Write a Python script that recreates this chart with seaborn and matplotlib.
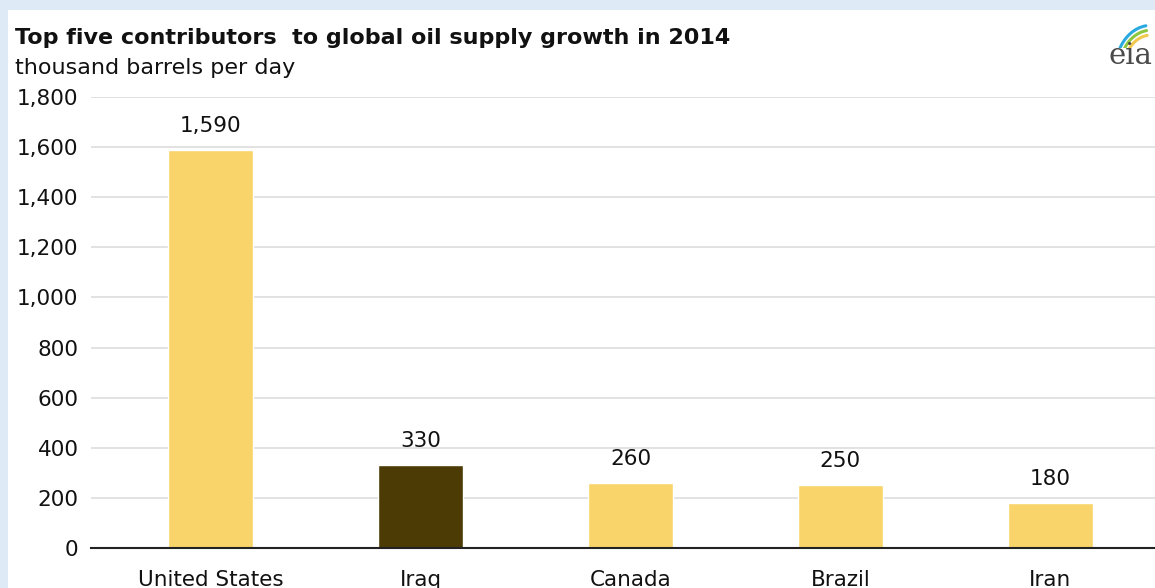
import numpy as np
import pandas as pd
import matplotlib
matplotlib.use("Agg")
import matplotlib.pyplot as plt
import matplotlib.patches as mpatches
import seaborn as sns

countries = ["United States", "Iraq", "Canada", "Brazil", "Iran"]
growth = [1590, 330, 260, 250, 180]
bar_colors = ["#F8D46B", "#4D3B06", "#F8D46B", "#F8D46B", "#F8D46B"]
yticks = [0, 200, 400, 600, 800, 1000, 1200, 1400, 1600, 1800]

df = pd.DataFrame({"country": countries, "growth": growth})

sns.set_theme(style="white")
plt.rcParams["font.family"] = ["DejaVu Sans"]

W, H = 1155, 588
fig = plt.figure(figsize=(W / 100, H / 100), dpi=100)
fig.patch.set_facecolor("#DEEAF5")
# white card behind the chart
card = mpatches.Rectangle((8 / W, 0), 1, 1 - 10 / H, transform=fig.transFigure,
                          facecolor="white", edgecolor="none", zorder=-5)
fig.add_artist(card)

ax = fig.add_axes([91 / W, 40 / H, (1170 - 91) / W, (548 - 97) / H])
ax.set_facecolor("none")
sns.barplot(data=df, x="country", y="growth", hue="country", palette=bar_colors,
            legend=False, width=0.405, ax=ax, saturation=1, zorder=3)

ax.set_xlim(-0.57, 4.57)
ax.set_ylim(0, 1800)
ax.set_yticks(yticks)
ax.set_yticklabels([f"{v:,}" for v in yticks], fontsize=15.5, color="#111111")
ax.grid(axis="y", color="#DADADA", linewidth=1.1, zorder=0)
for s in ["top", "right", "left"]:
    ax.spines[s].set_visible(False)
ax.spines["bottom"].set_color("#222222")
ax.spines["bottom"].set_linewidth(1.5)
ax.spines["bottom"].set_zorder(4)
ax.tick_params(axis="y", length=0, pad=9)
ax.tick_params(axis="x", length=0, pad=16, labelsize=15.5, colors="#111111")
ax.set_xlabel("")
ax.set_ylabel("")

for i, v in enumerate(growth):
    ax.annotate(f"{v:,}", (i, v), xytext=(0, 10), textcoords="offset points",
                ha="center", va="bottom", fontsize=15.5, color="#111111")

fig.text(15 / W, 1 - 38 / H, "Top five contributors  to global oil supply growth in 2014",
         fontsize=16, fontweight="bold", va="center", ha="left", color="#111111")
fig.text(15 / W, 1 - 68 / H, "thousand barrels per day",
         fontsize=16, va="center", ha="left", color="#111111")

# eia logo approximation
fig.text(1108 / W, 1 - 56 / H, "eia", fontsize=21, family="DejaVu Serif",
         color="#4A4A4A", va="center", ha="left")
lax = fig.add_axes([1116 / W, 1 - 48 / H, 60 / W, 26 / H])
lax.axis("off")
t = np.linspace(np.pi * 0.55, np.pi * 0.95, 30)
for r, c in [(1.0, "#F2C94C"), (1.15, "#8DC63F"), (1.3, "#29A9E0")]:
    lax.plot(1.3 + r * np.cos(t), -0.6 + r * np.sin(t), color=c, linewidth=2.2,
             solid_capstyle="round")
lax.set_xlim(0, 2.2)
lax.set_ylim(0, 0.8)

fig.savefig("out.png", dpi=100)
